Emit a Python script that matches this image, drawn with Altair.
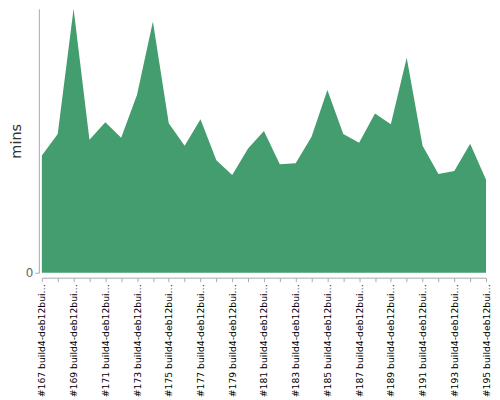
import altair as alt
import pandas as pd

builds = [f"#{n} build4-deb12builder-amd64" for n in range(167, 196)]
mins = [12.0, 14.2, 27.0, 13.6, 15.4, 13.8, 18.2, 25.7, 15.3, 13.0,
        15.7, 11.5, 10.0, 12.7, 14.5, 11.1, 11.2, 13.9, 18.7, 14.2,
        13.3, 16.3, 15.2, 22.0, 13.0, 10.1, 10.4, 13.2, 9.5]

df = pd.DataFrame({"build": builds, "mins": mins})

FONT = "DejaVu Sans"

chart = alt.Chart(df).mark_area(color="#449d6e", opacity=1).encode(
    x=alt.X("build:N", sort=None, title=None,
            scale=alt.Scale(type="point", padding=0),
            axis=alt.Axis(labelAngle=270, labelLimit=114.5, labelFontSize=9.3,
                          labelFont=FONT, labelColor="#000", offset=5,
                          domainColor="#aaa", tickColor="#aaa", tickSize=4,
                          labelPadding=2, labelOverlap=False,
                          labelExpr="parseInt(substring(datum.label,1,4)) % 2 == 1 ? datum.label : ''")),
    y=alt.Y("mins:Q", scale=alt.Scale(domain=[0, 27], nice=False),
            axis=alt.Axis(values=[0], grid=False, title="mins", titleFontSize=14.5,
                          titleFont=FONT, titleFontWeight="normal", titleColor="#333",
                          labelFont=FONT, labelFontSize=12, labelColor="#666",
                          offset=3, tickSize=4, labelPadding=2,
                          domainColor="#aaa", tickColor="#aaa", titlePadding=2)),
).properties(width=446, height=265, padding=0
).configure_view(stroke=None)

chart.save("out.html", embed_options={"renderer": "svg", "actions": False})
